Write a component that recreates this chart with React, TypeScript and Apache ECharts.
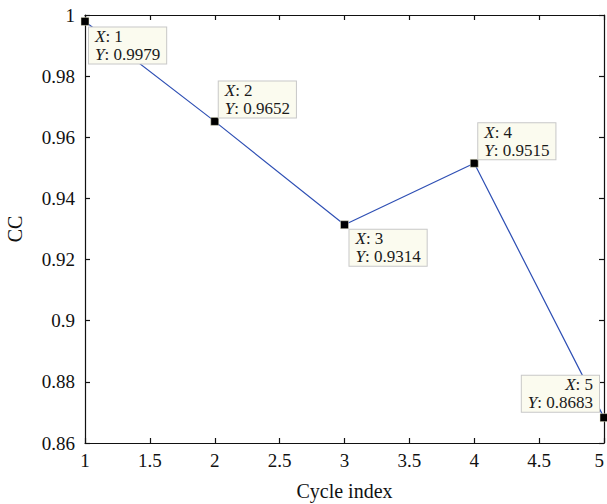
import React, { useEffect, useRef } from 'react';
import * as echarts from 'echarts';

const cycleIndex = [1, 2, 3, 4, 5];
const ccValues = [0.9979, 0.9652, 0.9314, 0.9515, 0.8683];
const xAxisName = 'Cycle index';
const yAxisName = 'CC';

// datatip placement relative to marker: [align, verticalAlign, dx, dy]
const tipPlacement: [string, string, number, number][] = [
  ['left', 'top', 4, 6],
  ['left', 'bottom', 4, -4],
  ['left', 'top', 5, 5],
  ['left', 'bottom', 4, -4],
  ['right', 'bottom', -5, -6],
];

const FONT = 'Liberation Serif';

export default function App() {
  const ref = useRef<HTMLDivElement>(null);
  useEffect(() => {
    if (!ref.current) return;
    const chart = echarts.init(ref.current, null, { renderer: 'svg' });
    const axisCommon = {
      type: 'value' as const,
      axisLine: { show: true, onZero: false, lineStyle: { color: '#111', width: 1.2 } },
      axisTick: { show: true, inside: true, length: 5, lineStyle: { color: '#111', width: 1.2 } },
      splitLine: { show: false },
    };
    const data = cycleIndex.map((x, i) => {
      const [align, va, dx, dy] = tipPlacement[i];
      return {
        value: [x, ccValues[i]],
        label: {
          show: true,
          position: 'inside',
          align,
          verticalAlign: va,
          offset: [dx, dy],
          formatter: `{i|X}{n|: ${x}}\n{i|Y}{n|: ${ccValues[i].toFixed(4)}}`,
        },
      };
    });
    chart.setOption({
      animation: false,
      backgroundColor: '#ffffff',
      textStyle: { fontFamily: FONT },
      grid: {
        left: 85,
        right: 3,
        top: 15,
        bottom: 61,
        containLabel: false,
        outerBoundsMode: 'none',
      },
      xAxis: [
        {
          ...axisCommon,
          min: 1,
          max: 5,
          interval: 0.5,
          position: 'bottom',
          name: xAxisName,
          nameLocation: 'middle',
          nameGap: 38,
          nameTextStyle: { fontFamily: FONT, fontSize: 20, color: '#111' },
          axisLabel: {
            fontFamily: FONT,
            fontSize: 19,
            color: '#111',
            margin: 8,
            alignMaxLabel: 'right',
          },
        },
        {
          ...axisCommon,
          min: 1,
          max: 5,
          interval: 0.5,
          position: 'top',
          axisLabel: { show: false },
        },
      ],
      yAxis: [
        {
          ...axisCommon,
          min: 0.86,
          max: 1,
          interval: 0.02,
          position: 'left',
          name: yAxisName,
          nameLocation: 'middle',
          nameGap: 60,
          nameTextStyle: { fontFamily: FONT, fontSize: 20, color: '#111' },
          axisLabel: { fontFamily: FONT, fontSize: 19, color: '#111', margin: 10 },
        },
        {
          ...axisCommon,
          min: 0.86,
          max: 1,
          interval: 0.02,
          position: 'right',
          axisLabel: { show: false },
        },
      ],
      series: [
        {
          type: 'line',
          xAxisIndex: 0,
          yAxisIndex: 0,
          data,
          clip: false,
          symbol: 'rect',
          symbolSize: 8,
          itemStyle: { color: '#000', borderColor: '#e8e8c8', borderWidth: 0.5 },
          lineStyle: { color: '#2e4fb4', width: 1.2 },
          label: {
            show: true,
            fontFamily: FONT,
            fontSize: 17,
            lineHeight: 18,
            color: '#1a1a1a',
            backgroundColor: '#fbfbef',
            borderColor: '#c8c8c8',
            borderWidth: 1,
            padding: [0, 6, 0, 6],
            rich: {
              i: { fontFamily: FONT, fontSize: 17, lineHeight: 18, fontStyle: 'italic', color: '#1a1a1a' },
              n: { fontFamily: FONT, fontSize: 17, lineHeight: 18, color: '#1a1a1a' },
            },
          },
          emphasis: { disabled: true },
          z: 3,
        },
      ],
    });
    return () => chart.dispose();
  }, []);
  return (
    <div
      ref={ref}
      style={{ position: 'absolute', left: 0, top: 0, width: 607, height: 504 }}
    />
  );
}
